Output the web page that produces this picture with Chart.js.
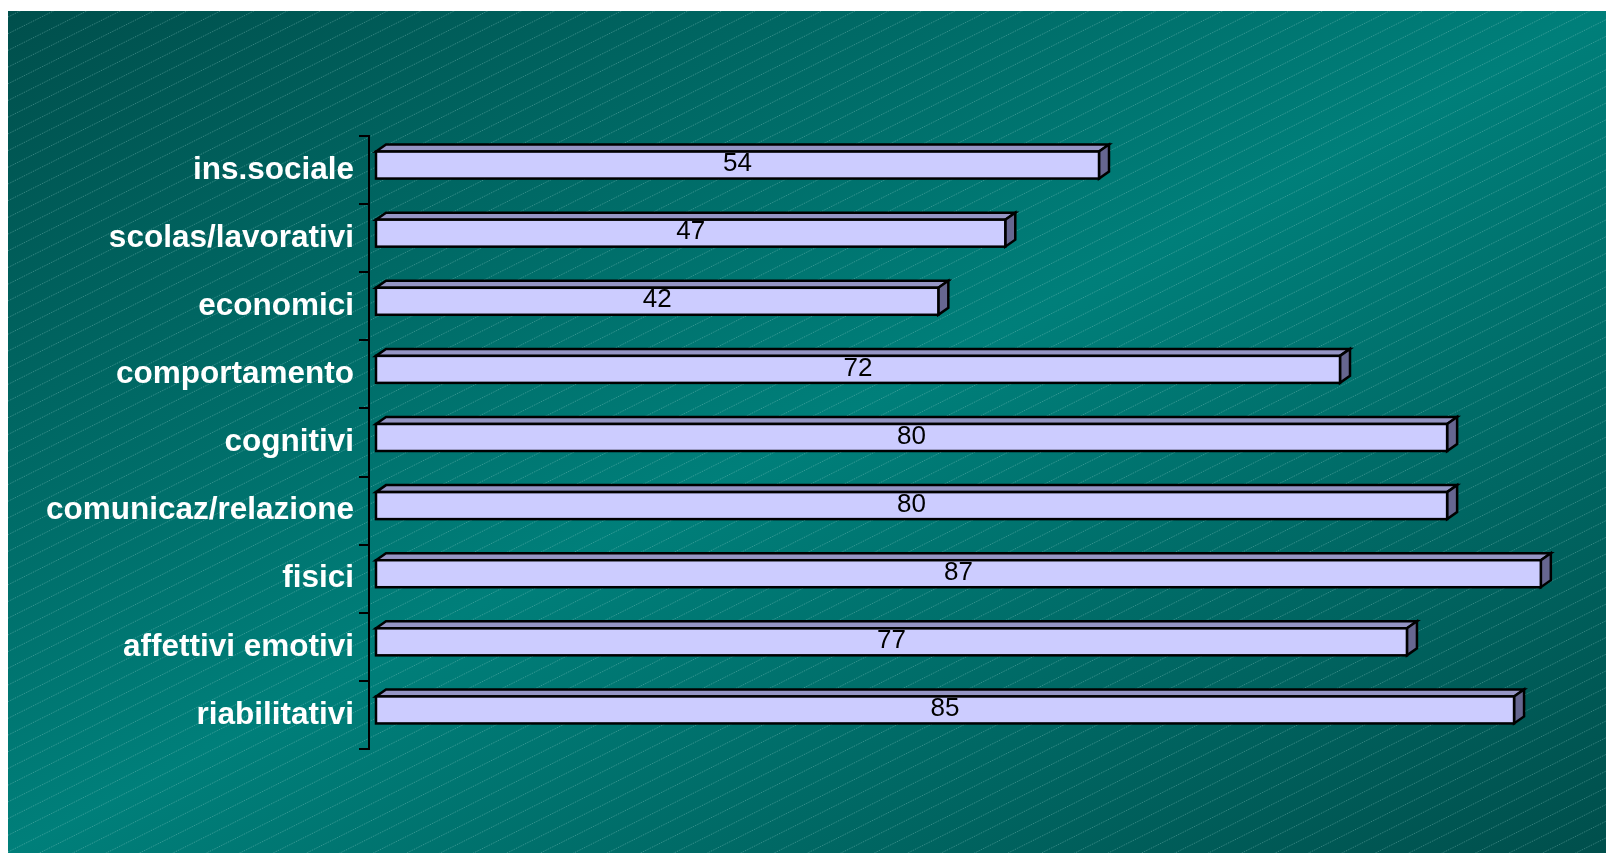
<!DOCTYPE html>
<html>
<head>
<meta charset="utf-8">
<script src="https://cdn.jsdelivr.net/npm/chart.js@4.4.1/dist/chart.umd.min.js"></script>
<style>
  html, body { margin: 0; padding: 0; background: #fff; }
  canvas { display: block; }
</style>
</head>
<body>
<canvas id="chart" width="1606" height="853"></canvas>
<script>
const categories = ['ins.sociale', 'scolas/lavorativi', 'economici', 'comportamento', 'cognitivi',
  'comunicaz/relazione', 'fisici', 'affettivi emotivi', 'riabilitativi'];
const values = [54, 47, 42, 72, 80, 80, 87, 77, 85];
const xMin = -0.523;
const xMax = 90;

// teal panel with diagonal gradient and dotted stripes
const backgroundPlugin = {
  id: 'panel',
  beforeDraw(chart) {
    const ctx = chart.ctx;
    const W = chart.width, H = chart.height;
    const x0 = 8, y0 = 11;
    ctx.save();
    ctx.fillStyle = '#fff';
    ctx.fillRect(0, 0, W, H);
    const g = ctx.createLinearGradient(460, -227, 1154, 1091);
    g.addColorStop(0, '#004f4c');
    g.addColorStop(0.5, '#007f7a');
    g.addColorStop(1, '#004f4c');
    ctx.fillStyle = g;
    ctx.fillRect(x0, y0, W - x0, H - y0);
    ctx.beginPath();
    ctx.rect(x0, y0, W - x0, H - y0);
    ctx.clip();
    ctx.strokeStyle = 'rgba(160,215,210,0.38)';
    ctx.lineWidth = 1;
    ctx.setLineDash([1, 1]);
    for (let c = y0 + 6; c < H + W / 2 + 20; c += 16.7) {
      ctx.beginPath();
      ctx.moveTo(x0, c);
      ctx.lineTo(W, c - (W - x0) / 2);
      ctx.stroke();
    }
    ctx.restore();
  }
};

// 3D boxes and value labels, positioned from the bar elements
const boxPlugin = {
  id: 'boxes',
  afterDatasetsDraw(chart) {
    const ctx = chart.ctx;
    const meta = chart.getDatasetMeta(0);
    const dx = 10, dy = 7, shift = 5;
    ctx.save();
    ctx.lineWidth = 2.5;
    ctx.strokeStyle = '#000';
    ctx.lineJoin = 'miter';
    meta.data.forEach((el, i) => {
      const p = el.getProps(['x', 'y', 'base', 'height'], true);
      const l = p.base, r = p.x;
      const t = p.y - shift - p.height / 2, b = p.y - shift + p.height / 2;
      // top face
      ctx.beginPath();
      ctx.moveTo(l, t); ctx.lineTo(l + dx, t - dy); ctx.lineTo(r + dx, t - dy); ctx.lineTo(r, t); ctx.closePath();
      ctx.fillStyle = '#9595c4';
      ctx.fill(); ctx.stroke();
      // side face
      ctx.beginPath();
      ctx.moveTo(r, t); ctx.lineTo(r + dx, t - dy); ctx.lineTo(r + dx, b - dy); ctx.lineTo(r, b); ctx.closePath();
      ctx.fillStyle = '#666690';
      ctx.fill(); ctx.stroke();
      // front face
      ctx.fillStyle = '#ccccff';
      ctx.fillRect(l, t, r - l, b - t);
      ctx.strokeRect(l, t, r - l, b - t);
      // value
      ctx.fillStyle = '#000';
      ctx.font = '26px Arial, "Liberation Sans", sans-serif';
      ctx.textAlign = 'center';
      ctx.textBaseline = 'middle';
      ctx.fillText(String(values[i]), (l + r) / 2, (t + b) / 2 - 1);
    });
    ctx.restore();
  }
};

new Chart(document.getElementById('chart'), {
  type: 'bar',
  data: {
    labels: categories,
    datasets: [{
      data: values,
      backgroundColor: 'rgba(0,0,0,0)',
      borderWidth: 0,
      barThickness: 27
    }]
  },
  options: {
    indexAxis: 'y',
    responsive: false,
    animation: false,
    devicePixelRatio: 1,
    layout: { padding: { top: 136, bottom: 104, left: 0, right: 25 } },
    plugins: { legend: { display: false }, tooltip: { enabled: false } },
    scales: {
      x: { display: false, min: xMin, max: xMax },
      y: {
        grid: { display: true, drawOnChartArea: false, drawTicks: true, tickLength: 10, color: '#000', lineWidth: 2 },
        border: { display: true, color: '#000', width: 2 },
        ticks: {
          color: '#fff',
          padding: 5,
          font: { family: 'Arial, "Liberation Sans", sans-serif', weight: 'bold', size: 31.5 }
        },
        afterFit(scale) { scale.width = 369; }
      }
    }
  },
  plugins: [backgroundPlugin, boxPlugin]
});
</script>
</body>
</html>
